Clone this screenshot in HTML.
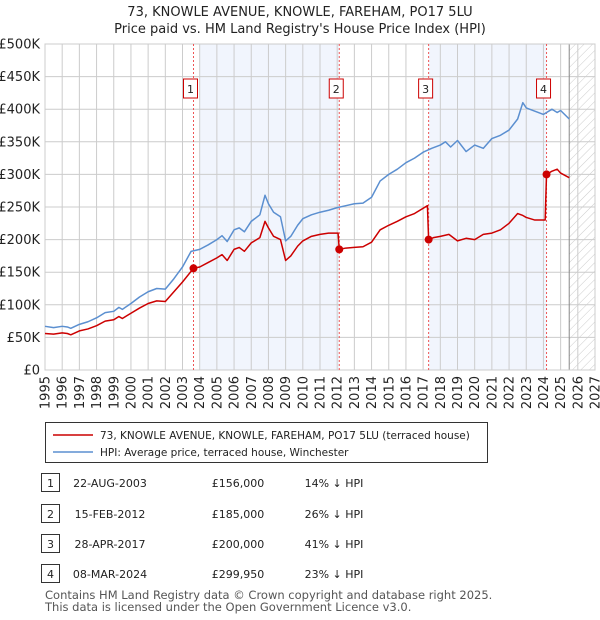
<!DOCTYPE html>
<html><head><meta charset="utf-8">
<style>
body{margin:0;background:#fff;font-family:"Liberation Sans","DejaVu Sans",sans-serif;}
#wrap{position:relative;width:600px;height:620px;overflow:hidden;}
svg text{font-family:"DejaVu Sans","Liberation Sans",sans-serif;}
</style></head>
<body><div id="wrap">
<svg id="chart" width="600" height="620"></svg>
</div>
<script>
const hpiYears=[1995,1995.5,1996,1996.3,1996.5,1997,1997.5,1998,1998.5,1999,1999.3,1999.5,2000,2000.5,2001,2001.5,2002,2002.5,2003,2003.5,2004,2004.5,2005,2005.3,2005.6,2006,2006.3,2006.6,2007,2007.5,2007.8,2008,2008.3,2008.7,2009,2009.3,2009.7,2010,2010.5,2011,2011.5,2012,2012.5,2013,2013.5,2014,2014.5,2015,2015.5,2016,2016.5,2017,2017.5,2018,2018.3,2018.6,2019,2019.5,2020,2020.5,2021,2021.5,2022,2022.5,2022.8,2023,2023.5,2024,2024.5,2024.8,2025,2025.5];
const hpiValues=[67,65,67,66,64,70,74,80,88,90,96,93,102,112,120,125,124,140,158,182,185,192,200,206,197,215,218,212,228,238,268,255,242,235,198,205,222,232,238,242,245,249,252,255,256,265,290,300,308,318,325,334,340,345,350,342,352,335,345,340,355,360,368,385,410,402,397,392,400,395,398,385];
const ppYears=[1995,1995.5,1996,1996.3,1996.5,1997,1997.5,1998,1998.5,1999,1999.3,1999.5,2000,2000.5,2001,2001.5,2002,2002.5,2003,2003.64,2004,2004.5,2005,2005.3,2005.6,2006,2006.3,2006.6,2007,2007.5,2007.8,2008,2008.3,2008.7,2009,2009.3,2009.7,2010,2010.5,2011,2011.5,2012.05,2012.12,2012.5,2013,2013.5,2014,2014.5,2015,2015.5,2016,2016.5,2017.25,2017.32,2017.6,2018,2018.5,2019,2019.5,2020,2020.5,2021,2021.5,2022,2022.5,2022.8,2023,2023.5,2024.1,2024.18,2024.5,2024.8,2025,2025.5];
const ppValues=[56,55,57,56,54,60,63,68,75,77,82,79,87,95,102,106,105,120,135,156,158,165,172,177,168,185,188,182,195,203,228,218,205,200,168,175,190,198,205,208,210,210,185,187,188,189,196,215,222,228,235,240,252,200,203,205,208,198,202,200,208,210,215,225,240,237,234,230,230,299.95,305,308,302,295];
const saleYears=[2003.64,2012.12,2017.32,2024.18];
const saleValues=[156,185,200,299.95];
const saleLabels=["1","2","3","4"];
const yTicks=[0,50,100,150,200,250,300,350,400,450,500];
const yTickLabels=["£0","£50K","£100K","£150K","£200K","£250K","£300K","£350K","£400K","£450K","£500K"];
const xTicks=[1995,1996,1997,1998,1999,2000,2001,2002,2003,2004,2005,2006,2007,2008,2009,2010,2011,2012,2013,2014,2015,2016,2017,2018,2019,2020,2021,2022,2023,2024,2025,2026,2027];

const NS="http://www.w3.org/2000/svg";
const svg=document.getElementById('chart');
const X0=45,X1=595,Y0=370,Y1=44;
const xs=y=>X0+(y-1995)/(2027-1995)*(X1-X0);
const ys=v=>Y0-v/500*(Y0-Y1);
function mk(tag,attrs,parent){const e=document.createElementNS(NS,tag);for(const k in attrs)e.setAttribute(k,attrs[k]);(parent||svg).appendChild(e);return e;}
let t=mk('text',{x:300,y:16,'text-anchor':'middle','font-size':13,fill:'#222'});t.textContent='73, KNOWLE AVENUE, KNOWLE, FAREHAM, PO17 5LU';


t=mk('text',{x:300,y:33,'text-anchor':'middle','font-size':13,fill:'#222'});t.textContent="Price paid vs. HM Land Registry's House Price Index (HPI)";


const bands=[[2004,2012.12],[2017.32,2024.18]];
bands.forEach(b=>{const r=mk('rect',{x:xs(b[0]),y:Y1,width:xs(b[1])-xs(b[0]),height:Y0-Y1,fill:'#eef3fc',opacity:0.8});

});
const defs=mk('defs',{});
const pat=mk('pattern',{id:'hatch',width:6,height:6,patternUnits:'userSpaceOnUse',patternTransform:'rotate(45)'},defs);
mk('line',{x1:0,y1:0,x2:0,y2:6,stroke:'#ccc','stroke-width':1},pat);
const hx=xs(2025.5);
let h=mk('rect',{x:hx,y:Y1,width:X1-hx,height:Y0-Y1,fill:'url(#hatch)'});


yTicks.forEach((v,i)=>{mk('line',{x1:X0,x2:X1,y1:ys(v),y2:ys(v),stroke:'#ccc','stroke-width':1});
const l=mk('text',{x:X0-5,y:ys(v)+4.5,'text-anchor':'end','font-size':13,fill:'#222'});l.textContent=yTickLabels[i];

});
xTicks.forEach(y=>{mk('line',{x1:xs(y),x2:xs(y),y1:Y1,y2:Y0,stroke:'#ccc','stroke-width':1});
const l=mk('text',{x:0,y:0,'text-anchor':'end','font-size':13,fill:'#222',transform:`translate(${xs(y)+4.5},${Y0+6}) rotate(-90)`});l.textContent=y;

});
mk('line',{x1:hx,x2:hx,y1:Y1,y2:Y0,stroke:'#888','stroke-width':1});
mk('rect',{x:X0,y:Y1,width:X1-X0,height:Y0-Y1,fill:'none',stroke:'#ccc'});
saleYears.forEach((y,i)=>{mk('line',{x1:xs(y),x2:xs(y),y1:Y1,y2:Y0,stroke:'#e55','stroke-width':1,'stroke-dasharray':'2,2'});
const bx=xs(y)-3;const r=mk('rect',{x:bx-7,y:79,width:14,height:19,fill:'#fff',stroke:'#c00'});


const l=mk('text',{x:bx,y:93,'text-anchor':'middle','font-size':11,fill:'#222'});l.textContent=saleLabels[i];});
const line=(xsA,vs,col,name)=>{const p=mk('polyline',{points:xsA.map((y,i)=>xs(y)+','+ys(vs[i])).join(' '),fill:'none',stroke:col,'stroke-width':1.5,'stroke-linejoin':'round'});

};
line(hpiYears,hpiValues,'#5b8fd0','hpi-line');
line(ppYears,ppValues,'#cc0000','price-paid-line');
saleYears.forEach((y,i)=>{const c=mk('circle',{cx:xs(y),cy:ys(saleValues[i]),r:4,fill:'#cc0000'});

});
let lg=mk('rect',{x:45.5,y:422.5,width:442,height:40,fill:'#fff',stroke:'#333'});


mk('line',{x1:53,x2:93,y1:435,y2:435,stroke:'#cc0000','stroke-width':1.5});
mk('line',{x1:53,x2:93,y1:452,y2:452,stroke:'#5b8fd0','stroke-width':1.5});
t=mk('text',{x:100,y:439,'font-size':10.5,fill:'#222'});t.textContent='73, KNOWLE AVENUE, KNOWLE, FAREHAM, PO17 5LU (terraced house)';


t=mk('text',{x:100,y:456,'font-size':10.5,fill:'#222'});t.textContent='HPI: Average price, terraced house, Winchester';


const dates=['22-AUG-2003','15-FEB-2012','28-APR-2017','08-MAR-2024'];
const prices=['£156,000','£185,000','£200,000','£299,950'];
const pct=['14% ↓ HPI','26% ↓ HPI','41% ↓ HPI','23% ↓ HPI'];
[483,514,544,574].forEach((cy,i)=>{const r=mk('rect',{x:41.5,y:cy-9.5,width:18,height:18,fill:'#fff',stroke:'#333'});


let a=mk('text',{x:50.5,y:cy+4,'text-anchor':'middle','font-size':11,fill:'#222'});a.textContent=saleLabels[i];
a=mk('text',{x:110,y:cy+4,'text-anchor':'middle','font-size':11,fill:'#222'});a.textContent=dates[i];


a=mk('text',{x:238,y:cy+4,'text-anchor':'middle','font-size':11,fill:'#222'});a.textContent=prices[i];


a=mk('text',{x:334,y:cy+4,'text-anchor':'middle','font-size':11,fill:'#222'});a.textContent=pct[i];

});
t=mk('text',{x:45,y:599,'font-size':11.5,fill:'#555'});t.textContent='Contains HM Land Registry data © Crown copyright and database right 2025.';


t=mk('text',{x:45,y:611,'font-size':11.5,fill:'#555'});t.textContent='This data is licensed under the Open Government Licence v3.0.';


</script></body></html>
